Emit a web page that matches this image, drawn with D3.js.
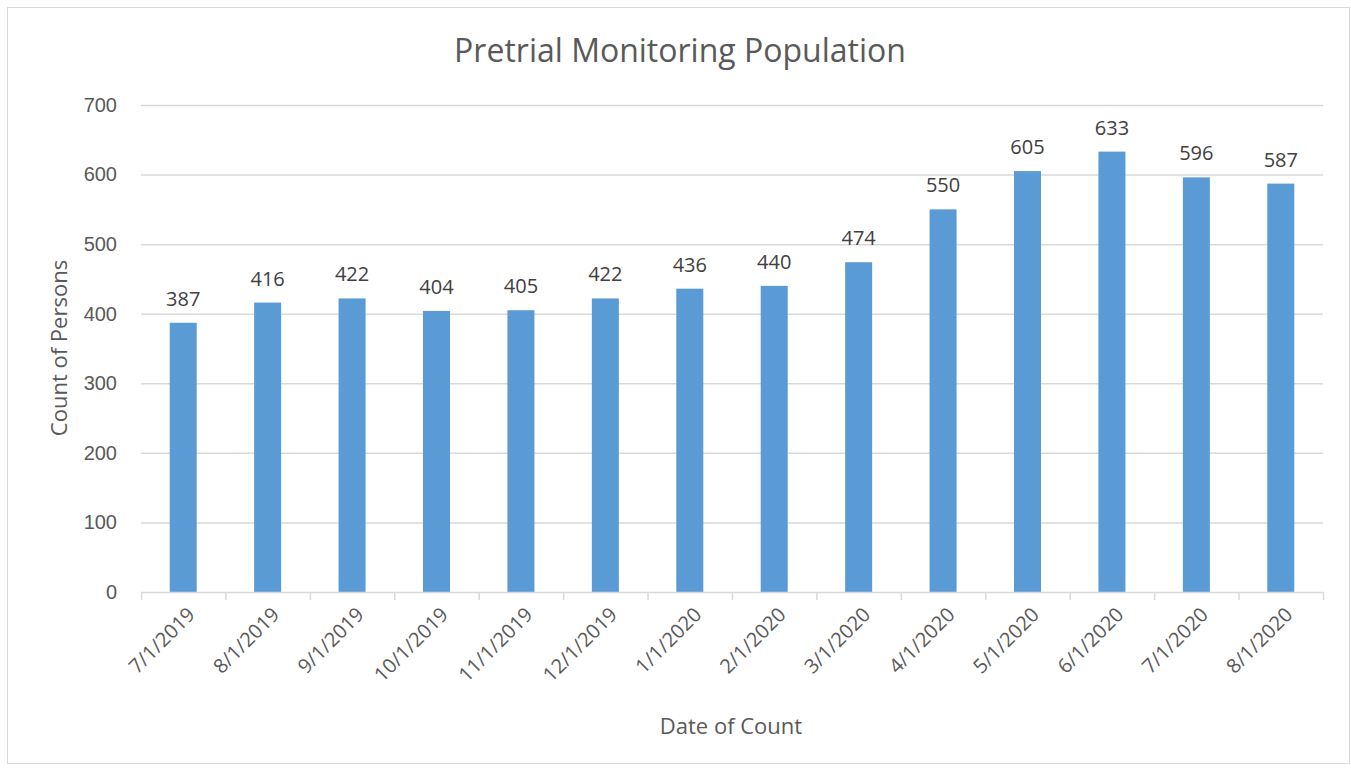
<!DOCTYPE html>
<html lang="en">
  <head>
    <meta charset="utf-8">
    <title>Pretrial Monitoring Population</title>
    <style>
      body { margin: 0; background: #fff; }
      svg { display: block; font-family: "Open Sans", "Noto Sans", sans-serif; }
    </style>
  </head>
  <body>
    <svg width="1351" height="769"></svg>
    <script src="https://cdn.jsdelivr.net/npm/d3@7"></script>
    <script>
      const dates = ["7/1/2019", "8/1/2019", "9/1/2019", "10/1/2019", "11/1/2019", "12/1/2019",
        "1/1/2020", "2/1/2020", "3/1/2020", "4/1/2020", "5/1/2020", "6/1/2020", "7/1/2020", "8/1/2020"];
      const counts = [387, 416, 422, 404, 405, 422, 436, 440, 474, 550, 605, 633, 596, 587];
      const yTicks = [0, 100, 200, 300, 400, 500, 600, 700];

      const textColor = "#595959";
      const gridColor = "#D9D9D9";

      const svg = d3.select("svg");
      const margin = { top: 105, right: 28, bottom: 177, left: 141 };
      const width = 1351 - margin.left - margin.right;
      const height = 769 - margin.top - margin.bottom;

      // chart border
      svg.append("rect")
          .attr("x", 7.5).attr("y", 7.5)
          .attr("width", 1342).attr("height", 756)
          .attr("fill", "none")
          .attr("stroke", gridColor);

      const g = svg.append("g")
          .attr("transform", `translate(${margin.left},${margin.top})`);

      const x = d3.scaleBand()
          .domain(dates)
          .range([0, width])
          .paddingInner(0.68)
          .paddingOuter(0.34);

      const y = d3.scaleLinear()
          .domain([0, 700])
          .range([height, 0]);

      // gridlines
      g.append("g")
        .selectAll("line")
        .data(yTicks.filter(d => d > 0))
        .join("line")
          .attr("x1", 0)
          .attr("x2", width)
          .attr("y1", d => y(d) + 0.5)
          .attr("y2", d => y(d) + 0.5)
          .attr("stroke", gridColor)
          .attr("stroke-width", 1.5);

      // y axis labels
      const yAxis = g.append("g")
          .call(d3.axisLeft(y).tickValues(yTicks).tickSize(0).tickPadding(24));
      yAxis.select(".domain").remove();
      yAxis.selectAll("text")
          .attr("fill", textColor)
          .attr("font-size", 20);

      // bars
      g.append("g")
          .attr("fill", "#5B9BD5")
        .selectAll("rect")
        .data(counts)
        .join("rect")
          .attr("x", (d, i) => x(dates[i]))
          .attr("y", d => y(d))
          .attr("width", x.bandwidth())
          .attr("height", d => height - y(d));

      // value labels
      g.append("g")
        .selectAll("text")
        .data(counts)
        .join("text")
          .attr("x", (d, i) => x(dates[i]) + x.bandwidth() / 2)
          .attr("y", d => y(d) - 17)
          .attr("text-anchor", "middle")
          .attr("fill", "#404040")
          .attr("font-size", 20)
          .text(d => d);

      // x axis: baseline with ticks at category boundaries
      const step = width / dates.length;
      const xAxis = g.append("g")
          .attr("transform", `translate(0,${height})`);
      xAxis.append("line")
          .attr("x1", 0).attr("x2", width)
          .attr("y1", 0.5).attr("y2", 0.5)
          .attr("stroke", gridColor)
          .attr("stroke-width", 1.5);
      xAxis.selectAll("line.tick")
        .data(d3.range(dates.length + 1))
        .join("line")
          .attr("class", "tick")
          .attr("x1", i => i * step + 0.5)
          .attr("x2", i => i * step + 0.5)
          .attr("y1", 0)
          .attr("y2", 8)
          .attr("stroke", gridColor)
          .attr("stroke-width", 1.5);
      xAxis.selectAll("text")
        .data(dates)
        .join("text")
          .attr("transform", d => `translate(${x(d) + x.bandwidth() / 2 + 8},${19}) rotate(-45)`)
          .attr("text-anchor", "end")
          .attr("dy", "0.35em")
          .attr("fill", textColor)
          .attr("font-size", 20)
          .text(d => d);

      // title
      svg.append("text")
          .attr("x", 680)
          .attr("y", 62)
          .attr("text-anchor", "middle")
          .attr("fill", textColor)
          .attr("font-size", 32)
          .text("Pretrial Monitoring Population");

      // axis titles
      svg.append("text")
          .attr("x", 731)
          .attr("y", 734)
          .attr("text-anchor", "middle")
          .attr("fill", textColor)
          .attr("font-size", 22)
          .text("Date of Count");

      svg.append("text")
          .attr("transform", "translate(67,348) rotate(-90)")
          .attr("text-anchor", "middle")
          .attr("fill", textColor)
          .attr("font-size", 22)
          .text("Count of Persons");
    </script>
  </body>
</html>
